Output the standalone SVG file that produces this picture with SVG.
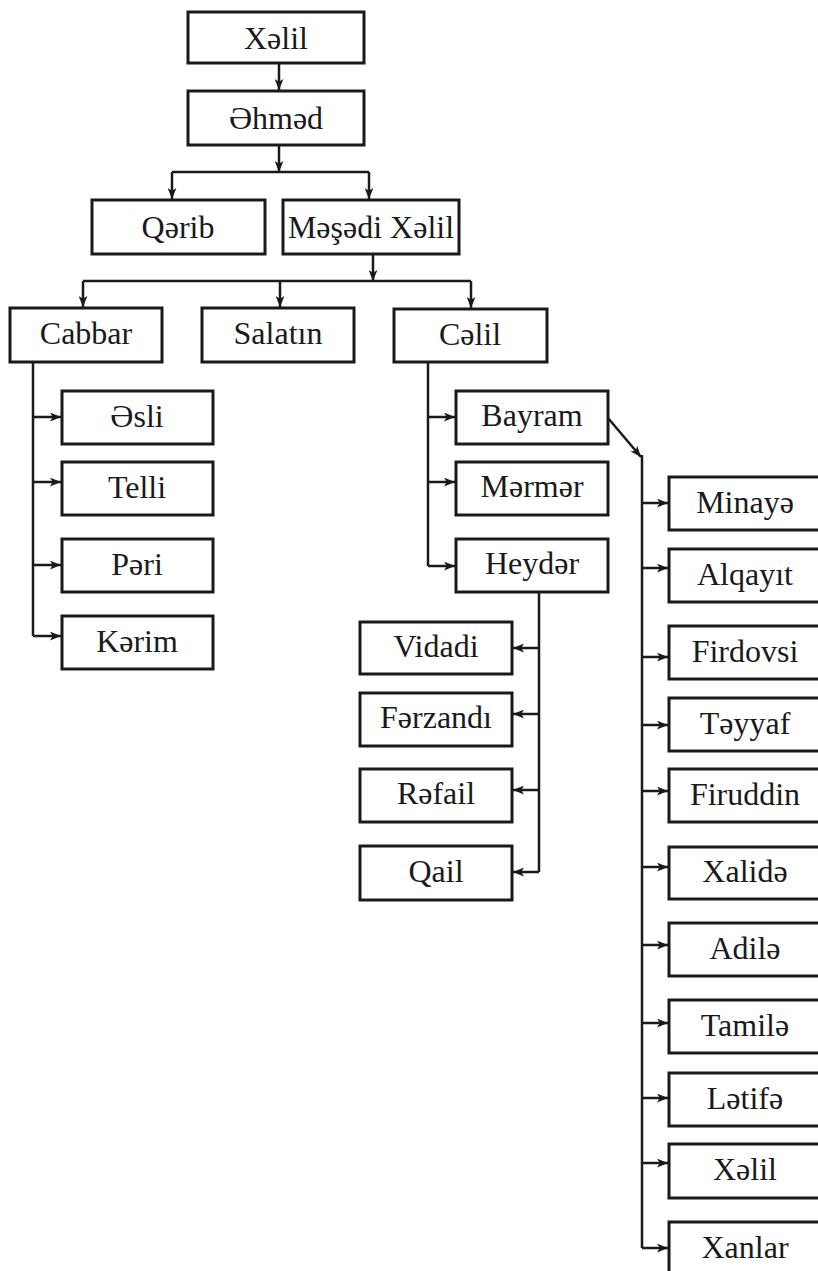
<svg xmlns="http://www.w3.org/2000/svg" width="818" height="1271" viewBox="0 0 818 1271">
<style>
.box{fill:#fff;stroke:#1a1a1a;stroke-width:3}
.t{font-family:"Liberation Serif","Times New Roman",serif;font-size:32px;fill:#1a1a1a;text-anchor:middle}
.c{fill:none;stroke:#1a1a1a;stroke-width:2.5}
</style>
<defs>
<marker id="ah" viewBox="0 0 10 8" refX="10" refY="4" markerWidth="11" markerHeight="9" markerUnits="userSpaceOnUse" orient="auto">
<path d="M0,0 L10,4 L0,8 L2.5,4 z" fill="#1a1a1a"/>
</marker>
</defs>
<rect width="818" height="1271" fill="#fff"/>
<g id="connectors">
<path class="c" d="M279,63 V90" marker-end="url(#ah)"/>
<path class="c" d="M279,145 V172" marker-end="url(#ah)"/>
<path class="c" d="M172,172 H369"/>
<path class="c" d="M172,172 V199" marker-end="url(#ah)"/>
<path class="c" d="M369,172 V199" marker-end="url(#ah)"/>
<path class="c" d="M373,254 V281" marker-end="url(#ah)"/>
<path class="c" d="M83,281 H471"/>
<path class="c" d="M83,281 V307" marker-end="url(#ah)"/>
<path class="c" d="M280,281 V307" marker-end="url(#ah)"/>
<path class="c" d="M471,281 V308" marker-end="url(#ah)"/>
<path class="c" d="M33,362 V636"/>
<path class="c" d="M33,417 H61" marker-end="url(#ah)"/>
<path class="c" d="M33,482 H61" marker-end="url(#ah)"/>
<path class="c" d="M33,565 H61" marker-end="url(#ah)"/>
<path class="c" d="M33,636 H61" marker-end="url(#ah)"/>
<path class="c" d="M428,362 V566"/>
<path class="c" d="M428,417 H455" marker-end="url(#ah)"/>
<path class="c" d="M428,482 H455" marker-end="url(#ah)"/>
<path class="c" d="M428,566 H455" marker-end="url(#ah)"/>
<path class="c" d="M539,592 V872"/>
<path class="c" d="M539,648 H513" marker-end="url(#ah)"/>
<path class="c" d="M539,714 H513" marker-end="url(#ah)"/>
<path class="c" d="M539,790 H513" marker-end="url(#ah)"/>
<path class="c" d="M539,872 H513" marker-end="url(#ah)"/>
<path class="c" d="M608,418 L641,457" marker-end="url(#ah)"/>
<path class="c" d="M642,455 V1248"/>
<path class="c" d="M642,503 H668" marker-end="url(#ah)"/>
<path class="c" d="M642,568 H668" marker-end="url(#ah)"/>
<path class="c" d="M642,657 H668" marker-end="url(#ah)"/>
<path class="c" d="M642,725 H668" marker-end="url(#ah)"/>
<path class="c" d="M642,791 H668" marker-end="url(#ah)"/>
<path class="c" d="M642,867 H668" marker-end="url(#ah)"/>
<path class="c" d="M642,945 H668" marker-end="url(#ah)"/>
<path class="c" d="M642,1023 H668" marker-end="url(#ah)"/>
<path class="c" d="M642,1098 H668" marker-end="url(#ah)"/>
<path class="c" d="M642,1163 H668" marker-end="url(#ah)"/>
<path class="c" d="M642,1248 H668" marker-end="url(#ah)"/>
</g>
<g id="n-xelil1"><rect class="box" x="188" y="12" width="176" height="51"/><text class="t" x="276" y="49">Xəlil</text></g>
<g id="n-ehmed"><rect class="box" x="188" y="91" width="176" height="54"/><text class="t" x="276" y="129">Əhməd</text></g>
<g id="n-qerib"><rect class="box" x="92" y="200" width="173" height="54"/><text class="t" x="178" y="238">Qərib</text></g>
<g id="n-meshedi"><rect class="box" x="283" y="200" width="176" height="54"/><text class="t" x="371" y="238">Məşədi Xəlil</text></g>
<g id="n-cabbar"><rect class="box" x="10" y="308" width="152" height="54"/><text class="t" x="86" y="344">Cabbar</text></g>
<g id="n-salatin"><rect class="box" x="202" y="308" width="152" height="54"/><text class="t" x="278" y="344">Salatın</text></g>
<g id="n-celil"><rect class="box" x="394" y="309" width="153" height="53"/><text class="t" x="470" y="345">Cəlil</text></g>
<g id="n-esli"><rect class="box" x="62" y="391" width="151" height="53"/><text class="t" x="137" y="427">Əsli</text></g>
<g id="n-telli"><rect class="box" x="62" y="462" width="151" height="53"/><text class="t" x="137" y="498">Telli</text></g>
<g id="n-peri"><rect class="box" x="62" y="539" width="151" height="53"/><text class="t" x="137" y="575">Pəri</text></g>
<g id="n-kerim"><rect class="box" x="62" y="616" width="151" height="53"/><text class="t" x="137" y="652">Kərim</text></g>
<g id="n-bayram"><rect class="box" x="456" y="391" width="152" height="53"/><text class="t" x="532" y="426">Bayram</text></g>
<g id="n-mermer"><rect class="box" x="456" y="462" width="152" height="53"/><text class="t" x="532" y="497">Mərmər</text></g>
<g id="n-heyder"><rect class="box" x="456" y="539" width="152" height="53"/><text class="t" x="532" y="574">Heydər</text></g>
<g id="n-vidadi"><rect class="box" x="360" y="622" width="152" height="52"/><text class="t" x="436" y="657">Vidadi</text></g>
<g id="n-ferzandi"><rect class="box" x="360" y="693" width="152" height="53"/><text class="t" x="436" y="728">Fərzandı</text></g>
<g id="n-refail"><rect class="box" x="360" y="769" width="152" height="53"/><text class="t" x="436" y="804">Rəfail</text></g>
<g id="n-qail"><rect class="box" x="360" y="846" width="152" height="54"/><text class="t" x="436" y="882">Qail</text></g>
<g id="n-minaye"><rect class="box" x="669" y="477" width="153" height="53"/><text class="t" x="745" y="513">Minayə</text></g>
<g id="n-alqayit"><rect class="box" x="669" y="549" width="153" height="53"/><text class="t" x="745" y="585">Alqayıt</text></g>
<g id="n-firdovsi"><rect class="box" x="669" y="626" width="153" height="53"/><text class="t" x="745" y="662">Firdovsi</text></g>
<g id="n-teyyaf"><rect class="box" x="669" y="698" width="153" height="53"/><text class="t" x="745" y="734">Təyyaf</text></g>
<g id="n-firuddin"><rect class="box" x="669" y="769" width="153" height="53"/><text class="t" x="745" y="805">Firuddin</text></g>
<g id="n-xalide"><rect class="box" x="669" y="847" width="153" height="52"/><text class="t" x="745" y="882">Xalidə</text></g>
<g id="n-adile"><rect class="box" x="669" y="923" width="153" height="53"/><text class="t" x="745" y="959">Adilə</text></g>
<g id="n-tamile"><rect class="box" x="669" y="1000" width="153" height="53"/><text class="t" x="745" y="1036">Tamilə</text></g>
<g id="n-letife"><rect class="box" x="669" y="1073" width="153" height="53"/><text class="t" x="745" y="1109">Lətifə</text></g>
<g id="n-xelil2"><rect class="box" x="669" y="1144" width="153" height="54"/><text class="t" x="745" y="1180">Xəlil</text></g>
<g id="n-xanlar"><rect class="box" x="669" y="1222" width="153" height="56"/><text class="t" x="745" y="1258">Xanlar</text></g>
</svg>
